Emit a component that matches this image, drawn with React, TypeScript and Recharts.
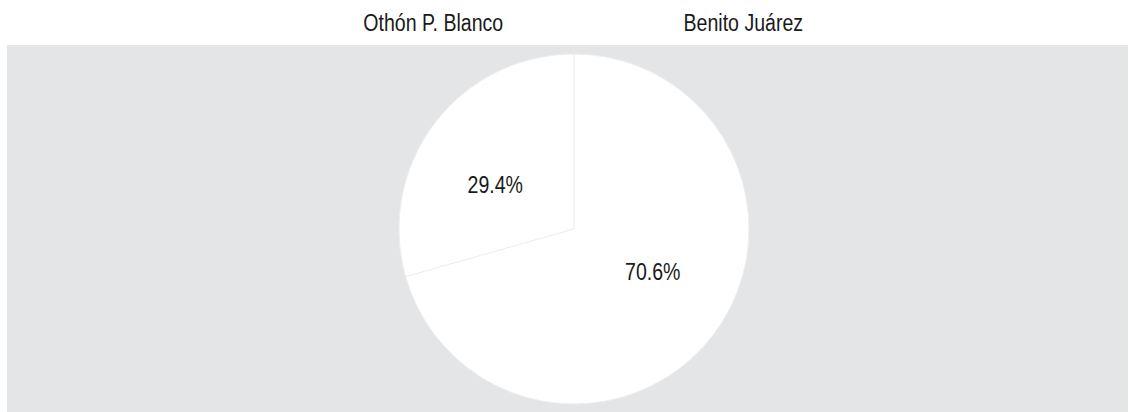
import React from 'react';
import { PieChart, Pie, Cell, Legend } from 'recharts';

const categories = ['Othón P. Blanco', 'Benito Juárez'];
const values = [29.4, 70.6];
const labels = ['29.4%', '70.6%'];

const data = categories.map((name, i) => ({ name, value: values[i], label: labels[i] }));

const FONT = '"Liberation Sans", Arial, sans-serif';
const SX = 0.85;
const RADIAN = Math.PI / 180;

const renderLabel = (props: any) => {
  const { cx, cy, midAngle, outerRadius, index } = props;
  const a = (midAngle + 8) * RADIAN;
  const r = outerRadius * 0.515;
  const x = cx + r * Math.cos(-a);
  const y = cy + r * Math.sin(-a);
  return (
    <text
      x={0}
      y={0}
      transform={`translate(${x},${y}) scale(${SX},1)`}
      textAnchor="middle"
      dominantBaseline="central"
      fill="#1a1a1a"
      fontSize={23}
      fontFamily={FONT}
    >
      {data[index].label}
    </text>
  );
};

const renderLegend = () => (
  <div
    style={{
      display: 'flex',
      justifyContent: 'center',
      paddingLeft: 47,
      fontFamily: FONT,
      fontSize: 23,
      color: '#1a1a1a',
      lineHeight: '26px',
    }}
  >
    {categories.map((c) => (
      <div key={c} style={{ width: 310, textAlign: 'center', whiteSpace: 'nowrap' }}>
        <span style={{ display: 'inline-block', transform: `scaleX(${SX})` }}>{c}</span>
      </div>
    ))}
  </div>
);

export default function App() {
  return (
    <div style={{ position: 'absolute', left: 0, top: 0, width: 1129, height: 412 }}>
      <div
        style={{
          position: 'absolute',
          left: 7,
          top: 45,
          width: 1121,
          height: 367,
          background: '#e4e5e7',
        }}
      />
      <div style={{ position: 'absolute', left: 0, top: 0 }}>
        <PieChart width={1129} height={412} margin={{ top: 0, right: 0, bottom: 0, left: 0 }}>
          <Legend
            verticalAlign="top"
            align="center"
            content={renderLegend}
            wrapperStyle={{ top: 10, left: 0, width: 1129 }}
          />
          <Pie
            data={data}
            dataKey="value"
            nameKey="name"
            cx={574}
            cy={203}
            outerRadius={175}
            startAngle={90}
            endAngle={450}
            stroke="#eeeeee"
            strokeWidth={1}
            label={renderLabel}
            labelLine={false}
            isAnimationActive={false}
          >
            {data.map((d) => (
              <Cell key={d.name} fill="#ffffff" />
            ))}
          </Pie>
        </PieChart>
      </div>
    </div>
  );
}
